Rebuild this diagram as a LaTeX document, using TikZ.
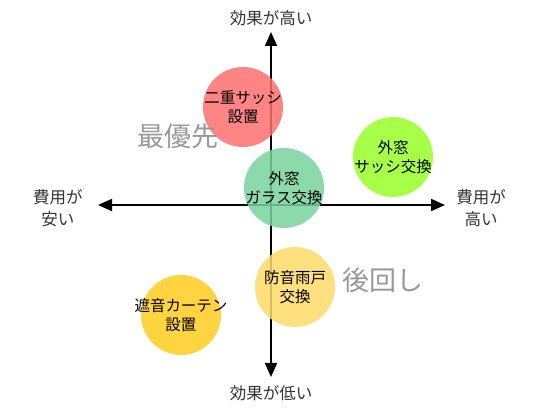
\documentclass[tikz,border=0pt]{standalone}
\usepackage{fontspec}
\setmainfont{Noto Sans CJK JP}
\usetikzlibrary{arrows.meta}

\begin{document}
\begin{tikzpicture}[
  x=1pt,
  y=-1pt,
  axis/.style={draw=black, line width=2pt, {Triangle[width=12pt,length=14pt]}-{Triangle[width=12pt,length=14pt]}},
  axislabel/.style={
    text=black!80,
    align=center,
    inner sep=0pt,
    font=\fontsize{16.5}{22}\selectfont
  },
  measure/.style={
    circle,
    fill opacity=0.85,
    text opacity=1,
    minimum size=80pt,
    inner sep=-25pt,
    align=center,
    font=\fontsize{15.5}{19}\selectfont
  },
  priority/.style={
    text=black!40,
    inner sep=0pt,
    font=\fontsize{27}{30}\selectfont
  }
]
\useasboundingbox (0,0) rectangle (550,411);

% Axes: cost runs left to right, effect runs bottom to top.
\coordinate (efftop) at (271,32);
\coordinate (effbot) at (271,377);
\coordinate (costleft) at (98,205);
\coordinate (costright) at (445,205);

\draw[axis] (effbot) -- (efftop);
\draw[axis] (costleft) -- (costright);

\node[axislabel] (effhigh)  at (271,18)  {効果が高い};
\node[axislabel] (efflow)   at (271,393) {効果が低い};
\node[axislabel] (costlow)  at (58,208)  {費用が\\安い};
\node[axislabel] (costhigh) at (481,208) {費用が\\高い};

% Measures placed by cost and effect.
\node[measure, fill={rgb,255:red,255;green,110;blue,110}] (double)  at (243,107) {二重サッシ\\設置};
\node[measure, fill={rgb,255:red,120;green,212;blue,158}] (glass)   at (284,188) {外窓\\ガラス交換};
\node[measure, fill={rgb,255:red,153;green,255;blue,40}]  (sash)    at (393,157) {外窓\\サッシ交換};
\node[measure, fill={rgb,255:red,255;green,218;blue,105}] (shutter) at (295,287) {防音雨戸\\交換};
\node[measure, fill={rgb,255:red,255;green,204;blue,30}]  (curtain) at (181,315) {遮音カーテン\\設置};

\node[priority] (first) at (178,136) {最優先};
\node[priority] (later) at (383,280) {後回し};

\end{tikzpicture}
\end{document}
